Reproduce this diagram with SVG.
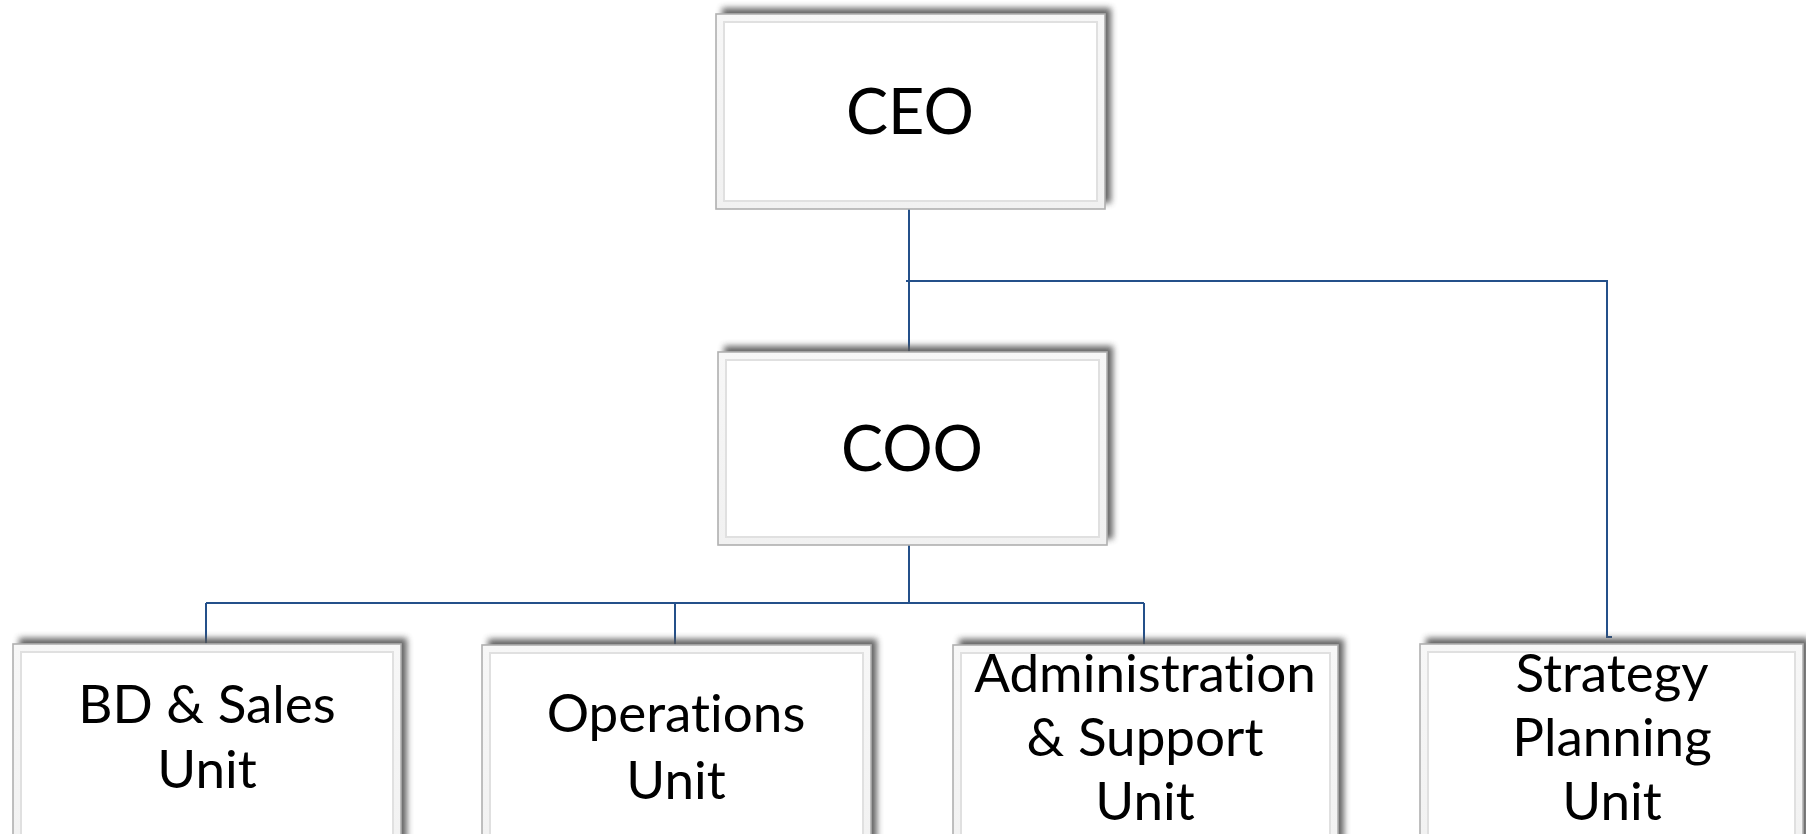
<svg xmlns="http://www.w3.org/2000/svg" width="1806" height="834" viewBox="0 0 1806 834">
  <defs>
    <filter id="soft" x="-10%" y="-20%" width="120%" height="140%">
      <feGaussianBlur stdDeviation="3"/>
    </filter>
    <linearGradient id="frameV" x1="0" y1="0" x2="0" y2="1">
      <stop offset="0" stop-color="#f7f7f7"/>
      <stop offset="1" stop-color="#f1f1f1"/>
    </linearGradient>
  </defs>
  <style>
    .shadow { fill: #555555; opacity: 0.9; filter: url(#soft); }
    .outer { fill: url(#frameV); stroke: #b0b0b0; stroke-width: 1.6; }
    .inner { fill: #ffffff; stroke: #e0e0e0; stroke-width: 2; }
    text { font-family: Lato, "Liberation Sans", sans-serif; fill: #000; text-anchor: middle; font-variant-ligatures: none; }
    .big { font-size: 63px; }
    .lbl { font-size: 53px; }
    .wire { fill: none; stroke: #24508a; stroke-width: 2; }
  </style>

  <rect width="1806" height="834" fill="#ffffff"/>

  <!-- reporting lines -->
  <g id="connectors">
    <path class="wire" d="M909,209 V352"/>
    <path class="wire" d="M906,281 H1607 V637 H1612"/>
    <path class="wire" d="M909,545 V603"/>
    <path class="wire" d="M206,603 H1144"/>
    <path class="wire" d="M206,603 V645"/>
    <path class="wire" d="M675,603 V645"/>
    <path class="wire" d="M1144,603 V645"/>
  </g>

  <g id="ceo">
    <rect class="shadow" x="722" y="8" width="389" height="195"/>
    <rect class="outer" x="716" y="14" width="389" height="195"/>
    <rect class="inner" x="724" y="22" width="373" height="179"/>
    <text class="big" x="910" y="134">CEO</text>
  </g>

  <g id="coo">
    <rect class="shadow" x="724" y="346" width="389" height="193"/>
    <rect class="outer" x="718" y="352" width="389" height="193"/>
    <rect class="inner" x="726" y="360" width="373" height="177"/>
    <text class="big" x="912" y="471">COO</text>
  </g>

  <g id="bd-sales">
    <rect class="shadow" x="19" y="638" width="388" height="230"/>
    <rect class="outer" x="13" y="644" width="388" height="230"/>
    <rect class="inner" x="21" y="652" width="372" height="214"/>
    <text class="lbl" x="207" y="723">BD &amp; Sales</text>
    <text class="lbl" x="207" y="788">Unit</text>
  </g>

  <g id="operations">
    <rect class="shadow" x="488" y="639" width="389" height="230"/>
    <rect class="outer" x="482" y="645" width="389" height="230"/>
    <rect class="inner" x="490" y="653" width="373" height="214"/>
    <text class="lbl" x="676" y="732">Operations</text>
    <text class="lbl" x="676" y="799">Unit</text>
  </g>

  <g id="admin-support">
    <rect class="shadow" x="959" y="639" width="385" height="230"/>
    <rect class="outer" x="953" y="645" width="385" height="230"/>
    <rect class="inner" x="961" y="653" width="369" height="214"/>
    <text class="lbl" x="1145" y="692">Administration</text>
    <text class="lbl" x="1145" y="756">&amp; Support</text>
    <text class="lbl" x="1145" y="820">Unit</text>
  </g>

  <g id="strategy-planning">
    <rect class="shadow" x="1426" y="638" width="383" height="230"/>
    <rect class="outer" x="1420" y="644" width="383" height="230"/>
    <rect class="inner" x="1428" y="652" width="367" height="214"/>
    <text class="lbl" x="1612" y="692">Strategy</text>
    <text class="lbl" x="1612" y="756">Planning</text>
    <text class="lbl" x="1612" y="820">Unit</text>
  </g>
</svg>
